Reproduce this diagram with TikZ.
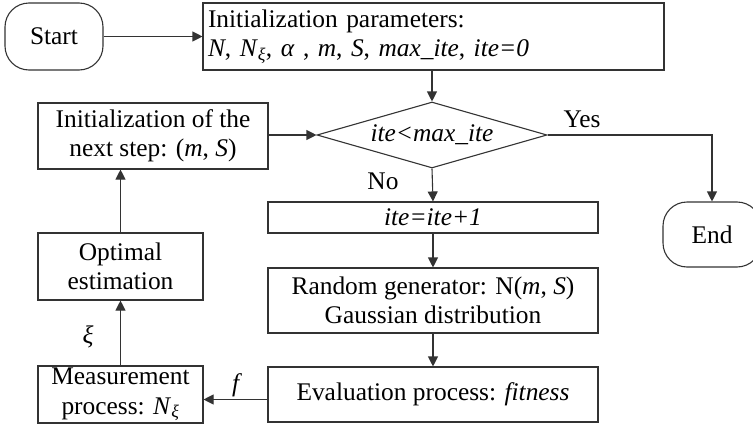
\documentclass[tikz,border=0pt]{standalone}
\usepackage{fontspec}
\setmainfont{Liberation Serif}
\usetikzlibrary{shapes.geometric,arrows.meta}
\begin{document}
\begin{tikzpicture}[x=1pt,y=-1pt,
  every node/.style={font=\fontsize{25.4}{29.5}\selectfont, text=black},
  box/.style={draw=black!80, line width=1.1pt, rectangle, inner sep=0pt, align=center},
  term/.style={box, rounded corners=24pt},
  dec/.style={draw=black!80, line width=1.1pt, diamond, aspect=3.48, inner sep=0pt},
  conn/.style={draw=black!80, line width=1.1pt, -{Triangle[length=10pt,width=10pt]}},
  lbl/.style={inner sep=0pt}
]
\useasboundingbox (0,0) rectangle (753,434);
\fill[white] (0,0) rectangle (753,434);

\node[term, minimum width=98pt, minimum height=67pt] (start) at (54,36.5) {Start};
\node[box, minimum width=461pt, minimum height=67pt, text width=451pt, align=left] (init) at (433.5,36.5)
  {Initialization parameters:\\
   \textit{N}, \textit{N}\textsubscript{\textit{ξ}}, \textit{α} , \textit{m}, \textit{S}, \textit{max\_ite}, \textit{ite=0}};
\node[dec, minimum width=230pt, minimum height=66pt] (cond) at (432,135) {\textit{ite<max\_ite}};
\node[box, minimum width=230pt, minimum height=66pt] (next) at (153,136)
  {Initialization of the\\ next step: (\textit{m}, \textit{S})};
\node[box, minimum width=330pt, minimum height=31pt] (inc) at (433,217.5) {\textit{ite=ite+1}};
\node[box, minimum width=330pt, minimum height=65pt] (rand) at (433,300.5)
  {Random generator: N(\textit{m}, \textit{S})\\ Gaussian distribution};
\node[box, minimum width=330pt, minimum height=55pt] (eval) at (433,394.5)
  {Evaluation process: \textit{fitness}};
\node[box, minimum width=165pt, minimum height=67pt] (opt) at (120.5,266.5)
  {Optimal\\ estimation};
\node[box, minimum width=165pt, minimum height=57pt] (meas) at (120.5,394.5)
  {Measurement\\ process: \textit{N}\textsubscript{\textit{ξ}}};
\node[term, minimum width=98pt, minimum height=65pt] (end) at (712,234.5) {End};

\draw[conn] (start) -- (init);
\draw[conn] (init.south -| cond.north) -- (cond.north);
\draw[conn] (cond.south) -- (inc.north);
\draw[conn] (inc) -- (rand);
\draw[conn] (rand) -- (eval);
\draw[conn] ([yshift=-5pt]eval.west) -- ([yshift=-5pt]meas.east);
\draw[conn] (meas.north) -- (opt.south);
\draw[conn] (opt.north) -- (opt.north |- next.south);
\draw[conn] (next.east |- cond.west) -- (cond.west);
\draw[conn] (cond.east) -| (end.north);

\node[lbl] (yes) at (582,119) {Yes};
\node[lbl] (no) at (383,181) {No};
\node[lbl] (xi) at (88,337) {\textit{ξ}};
\node[lbl] (f) at (237,385) {\textit{f}};
\end{tikzpicture}
\end{document}
